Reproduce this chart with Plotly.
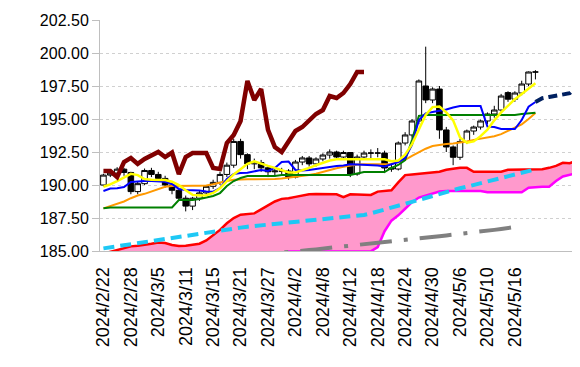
import plotly.graph_objects as go

# ---- categories (trading days) ----
dates = ["2024/2/22","2024/2/23","2024/2/26","2024/2/27","2024/2/28","2024/2/29","2024/3/1","2024/3/4",
         "2024/3/5","2024/3/6","2024/3/7","2024/3/8","2024/3/11","2024/3/12","2024/3/13","2024/3/14",
         "2024/3/15","2024/3/18","2024/3/19","2024/3/20","2024/3/21","2024/3/22","2024/3/25","2024/3/26",
         "2024/3/27","2024/3/28","2024/3/29","2024/4/1","2024/4/2","2024/4/3","2024/4/4","2024/4/5",
         "2024/4/8","2024/4/9","2024/4/10","2024/4/11","2024/4/12","2024/4/15","2024/4/16","2024/4/17",
         "2024/4/18","2024/4/19","2024/4/22","2024/4/23","2024/4/24","2024/4/25","2024/4/26","2024/4/29",
         "2024/4/30","2024/5/1","2024/5/2","2024/5/3","2024/5/6","2024/5/7","2024/5/8","2024/5/9",
         "2024/5/10","2024/5/13","2024/5/14","2024/5/15","2024/5/16","2024/5/17","2024/5/20","2024/5/21",
         "2024/5/22","2024/5/23","2024/5/24","2024/5/27","2024/5/28","2024/5/29"]
tick_labels = ["2024/2/22","2024/2/28","2024/3/5","2024/3/11","2024/3/15","2024/3/21","2024/3/27","2024/4/2",
               "2024/4/8","2024/4/12","2024/4/18","2024/4/24","2024/4/30","2024/5/6","2024/5/10","2024/5/16"]
y_ticks = [185.0, 187.5, 190.0, 192.5, 195.0, 197.5, 200.0, 202.5]

# ---- candles (index 0..63) ----
open_ = [190.0,190.75,190.9,191.2,190.95,189.5,190.1,191.1,190.8,190.5,190.0,189.6,189.0,188.4,189.0,189.4,
         189.9,190.2,190.8,191.5,193.3,192.3,191.6,191.7,191.3,191.0,191.06,191.06,190.6,191.74,192.05,191.6,
         191.97,192.27,192.5,192.12,192.46,190.83,192.12,192.42,192.42,192.42,191.29,191.21,193.18,193.79,194.85,197.5,
         196.44,197.27,194.17,192.88,192.1,193.3,194.09,194.39,194.85,195.38,195.68,197.0,196.5,196.97,197.65,198.56]
high = [190.85,191.1,191.35,191.3,191.0,190.3,191.25,191.3,191.0,190.7,190.2,189.8,189.2,189.1,189.6,190.0,
        190.4,191.0,191.7,193.5,193.5,192.4,192.0,191.9,191.5,191.3,191.3,191.2,191.9,192.2,192.2,192.1,
        192.4,192.7,192.6,192.6,192.5,192.3,192.6,192.7,192.8,192.6,191.6,193.3,194.0,195.0,198.0,200.48,
        197.4,197.5,194.4,193.0,193.5,194.2,194.5,194.95,195.5,196.0,196.9,197.1,197.1,197.9,198.6,198.7]
low = [189.9,190.6,190.8,190.7,189.3,189.3,190.0,190.6,190.3,189.8,189.3,188.8,188.0,188.1,188.8,189.2,
       189.7,190.0,190.6,191.3,192.0,191.2,191.2,191.0,190.6,190.7,190.8,190.4,190.5,191.5,191.4,191.4,
       191.8,192.0,191.9,192.0,190.6,190.7,191.9,191.9,192.1,190.9,191.0,191.1,193.0,193.6,194.6,196.2,
       196.2,193.5,192.5,191.5,191.9,193.1,193.8,194.2,194.6,195.1,195.5,196.3,196.3,196.8,197.5,198.0]
close = [190.75,190.9,191.2,190.95,189.5,190.1,191.1,190.8,190.5,190.0,189.6,189.0,188.4,189.0,189.4,189.9,
         190.2,190.8,191.5,193.3,192.3,191.6,191.7,191.3,191.0,191.06,191.06,190.6,191.74,192.05,191.6,191.97,
         192.27,192.5,192.12,192.46,190.83,192.12,192.42,192.42,192.42,191.29,191.21,193.18,193.79,194.85,197.88,196.44,
         197.27,194.17,192.88,192.1,193.3,194.09,194.39,194.85,195.38,195.68,196.74,196.5,196.97,197.65,198.56,198.56]

# ---- indicator lines ----
tenkan = [189.55,189.73,189.75,189.85,190.23,190.28,190.3,190.3,190.27,190.25,190.08,189.7,189.62,189.62,189.58,189.5,
          189.49,189.77,190.45,190.83,190.91,190.93,191.02,191.14,191.06,191.29,191.74,191.78,191.14,191.1,191.14,191.21,
          191.33,191.4,191.44,191.48,191.57,191.55,191.52,191.52,191.48,191.4,191.55,191.74,192.05,193.03,194.92,195.43,
          195.53,195.6,195.72,195.87,195.98,195.98,195.98,195.98,194.42,194.39,194.24,194.24,194.24,194.92,195.93,196.29]
tenkan_ahead = [196.29,196.57,196.67,196.78,196.86,196.95,197.45]   # index 63..69
kijun = [188.23,188.3,188.3,188.3,188.3,188.3,188.3,188.3,188.3,188.3,188.3,188.86,188.86,188.86,188.94,189.05,
         189.17,189.39,189.92,190.3,190.53,190.68,190.68,190.68,190.68,190.68,190.76,190.76,190.76,190.76,190.76,190.76,
         190.76,190.76,190.76,190.76,190.76,190.87,190.98,190.98,190.98,190.98,191.29,191.52,191.89,193.4,195.23,195.3,
         195.3,195.3,195.3,195.3,195.3,195.3,195.3,195.3,195.3,195.3,195.3,195.3,195.3,195.38,195.45,195.48]
ma_short = [189.87,190.05,190.3,190.6,190.85,190.75,190.45,190.4,190.4,190.38,190.25,190.0,189.6,189.25,189.2,189.22,
            189.4,189.75,190.3,190.8,191.2,191.6,191.8,191.6,191.45,191.3,191.1,190.95,190.95,191.1,191.3,191.5,
            191.7,191.85,191.95,191.95,191.95,191.95,191.95,191.95,191.95,191.95,191.8,191.85,192.3,193.1,194.2,195.3,
            195.9,195.95,195.5,194.9,193.6,193.2,193.3,193.7,194.2,194.9,195.5,196.0,196.5,196.9,197.3,197.7]
ma_mid = [188.23,188.4,188.55,188.75,189.0,189.2,189.33,189.5,189.7,189.87,189.93,189.95,189.95,189.95,189.95,189.97,
          190.05,190.2,190.3,190.4,190.43,190.43,190.43,190.43,190.43,190.45,190.5,190.55,190.6,190.67,190.75,190.85,
          191.0,191.15,191.27,191.38,191.47,191.55,191.57,191.57,191.57,191.57,191.6,191.75,191.9,192.2,192.5,192.75,
          192.95,193.05,193.1,193.15,193.2,193.3,193.42,193.5,193.6,193.7,193.85,194.1,194.35,194.6,195.0,195.45]
ma_long = [185.2,185.28,185.36,185.45,185.53,185.6,185.68,185.77,185.85,185.93,186.02,186.1,186.2,186.27,186.34,186.41,
           186.48,186.55,186.62,186.7,186.77,186.84,186.89,186.94,187.0,187.05,187.1,187.15,187.2,187.26,187.31,187.36,
           187.42,187.47,187.52,187.57,187.62,187.68,187.73,187.85,188.0,188.15,188.3,188.45,188.6,188.75,188.9,189.05,
           189.2,189.35,189.5,189.62,189.75,189.87,190.0,190.12,190.25,190.4,190.52,190.65,190.8,190.92,191.05,191.19]
ma_200 = [184.6,184.64,184.69,184.74,184.79,184.84,184.88,184.93,184.97,185.02,185.07,185.12,185.2,185.26,185.3,185.35,
          185.4,185.45,185.5,185.55,185.6,185.67,185.72,185.77,185.82,185.87,185.93,186.0,186.06,186.12,186.18,186.23,
          186.29,186.34,186.4,186.46,186.53,186.6,186.67,186.75,186.82,186.9]   # index 20..61
chikou = [191.06,191.06,190.6,191.74,192.05,191.6,191.97,192.27,192.5,192.12,192.46,190.83,192.12,192.42,192.42,192.42,
          191.29,191.21,193.18,193.79,194.85,197.88,196.44,197.27,194.17,192.88,192.5,193.26,194.09,194.39,194.85,195.38,
          195.68,196.74,196.59,196.97,197.65,198.56,198.56]   # index 0..38
span_a = [184.8,184.95,185.1,185.25,185.35,185.4,185.45,185.55,185.65,185.6,185.45,185.38,185.4,185.45,185.55,185.8,
          186.2,186.6,187.1,187.5,187.75,187.78,187.85,188.15,188.45,188.75,188.95,188.99,189.1,189.2,189.3,189.32,
          189.32,189.32,189.3,189.08,189.3,189.28,189.25,189.25,189.5,189.55,189.6,190.2,190.75,190.8,190.85,190.9,
          190.95,191.0,191.15,191.25,191.31,191.3,191.0,191.0,191.0,191.0,191.0,191.15,191.15,191.15,191.15,191.15,
          191.2,191.3,191.45,191.68,191.65,191.85]
span_b = [184.3,184.3,184.3,184.3,184.3,184.3,184.3,184.3,184.3,184.3,184.3,184.3,184.3,184.3,184.3,184.3,
          184.3,184.3,184.3,184.3,184.3,184.3,184.3,184.3,184.3,184.3,184.7,184.97,184.97,184.97,184.97,184.97,
          184.97,184.97,184.97,184.97,184.97,184.97,184.97,184.97,185.3,186.5,187.3,187.7,188.2,188.7,189.05,189.2,
          189.35,189.5,189.55,189.57,189.55,189.55,189.55,189.55,189.45,189.45,189.45,189.45,189.45,189.45,189.8,189.85,
          189.87,189.87,190.3,190.65,190.75,190.9]

n = len(close)
fig = go.Figure()

# cloud
fig.add_trace(go.Scatter(x=dates, y=span_b, mode="lines", line=dict(width=0, color="#ff00ff"), hoverinfo="skip"))
fig.add_trace(go.Scatter(x=dates, y=span_a, mode="lines", line=dict(width=0, color="#ff0000"),
                         fill="tonexty", fillcolor="#ff99cc", hoverinfo="skip"))
fig.add_trace(go.Scatter(x=dates, y=span_b, mode="lines", line=dict(width=2.5, color="#ff00ff")))
fig.add_trace(go.Scatter(x=dates, y=span_a, mode="lines", line=dict(width=2.5, color="#ff0000")))

# long moving averages
fig.add_trace(go.Scatter(x=dates[20:20 + len(ma_200)], y=ma_200, mode="lines",
                         line=dict(width=4, color="#808080", dash="32px,12px,4px,12px")))
fig.add_trace(go.Scatter(x=dates[:n], y=ma_long, mode="lines",
                         line=dict(width=4, color="#1ec8f5", dash="11px,6px")))

# candles
fig.add_trace(go.Candlestick(x=dates[:n], open=open_, high=high, low=low, close=close,
                             increasing=dict(line=dict(color="#000000", width=1), fillcolor="#ffffff"),
                             decreasing=dict(line=dict(color="#000000", width=1), fillcolor="#000000"),
                             whiskerwidth=0))

# lines on top
fig.add_trace(go.Scatter(x=dates[:n], y=ma_mid, mode="lines", line=dict(width=2, color="#ff9900")))
fig.add_trace(go.Scatter(x=dates[:n], y=kijun, mode="lines", line=dict(width=2, color="#008000")))
fig.add_trace(go.Scatter(x=dates[:n], y=tenkan, mode="lines", line=dict(width=2, color="#0000ff")))
fig.add_trace(go.Scatter(x=dates[n - 1:n - 1 + len(tenkan_ahead)], y=tenkan_ahead, mode="lines",
                         line=dict(width=4, color="#002060", dash="9px,5px")))
fig.add_trace(go.Scatter(x=dates[:n], y=ma_short, mode="lines", line=dict(width=2.5, color="#ffff00")))
fig.add_trace(go.Scatter(x=dates[:len(chikou)], y=chikou, mode="lines", line=dict(width=4.5, color="#800000")))

fig.update_layout(
    width=580, height=367,
    margin=dict(l=92, r=8, t=12, b=124, autoexpand=False),
    paper_bgcolor="#ffffff", plot_bgcolor="#ffffff",
    showlegend=False,
    boxgap=0.1, boxgroupgap=0.1,
    font=dict(family="Liberation Sans, Arial, sans-serif", size=16, color="#000000"),
)
fig.update_xaxes(type="category", categoryorder="array", categoryarray=dates,
                 range=[-0.5, len(dates) - 0.5], tickmode="array", tickvals=tick_labels, ticktext=tick_labels,
                 tickangle=-90, showgrid=False, showline=True, linecolor="#bfbfbf", linewidth=1,
                 ticks="", ticklabelstandoff=8, rangeslider=dict(visible=False), automargin=False,
                 tickfont=dict(size=18, color="#000000"))
fig.update_yaxes(range=[185, 202.5], tickmode="array", tickvals=y_ticks, tickformat=".2f",
                 showgrid=True, gridcolor="#d0d0d0", griddash="dot", gridwidth=1,
                 showline=True, linecolor="#bfbfbf", linewidth=1, ticks="outside", ticklen=7,
                 tickcolor="#bfbfbf", zeroline=False, automargin=False, tickfont=dict(size=16, color="#000000"))

fig.write_html("out.html")
